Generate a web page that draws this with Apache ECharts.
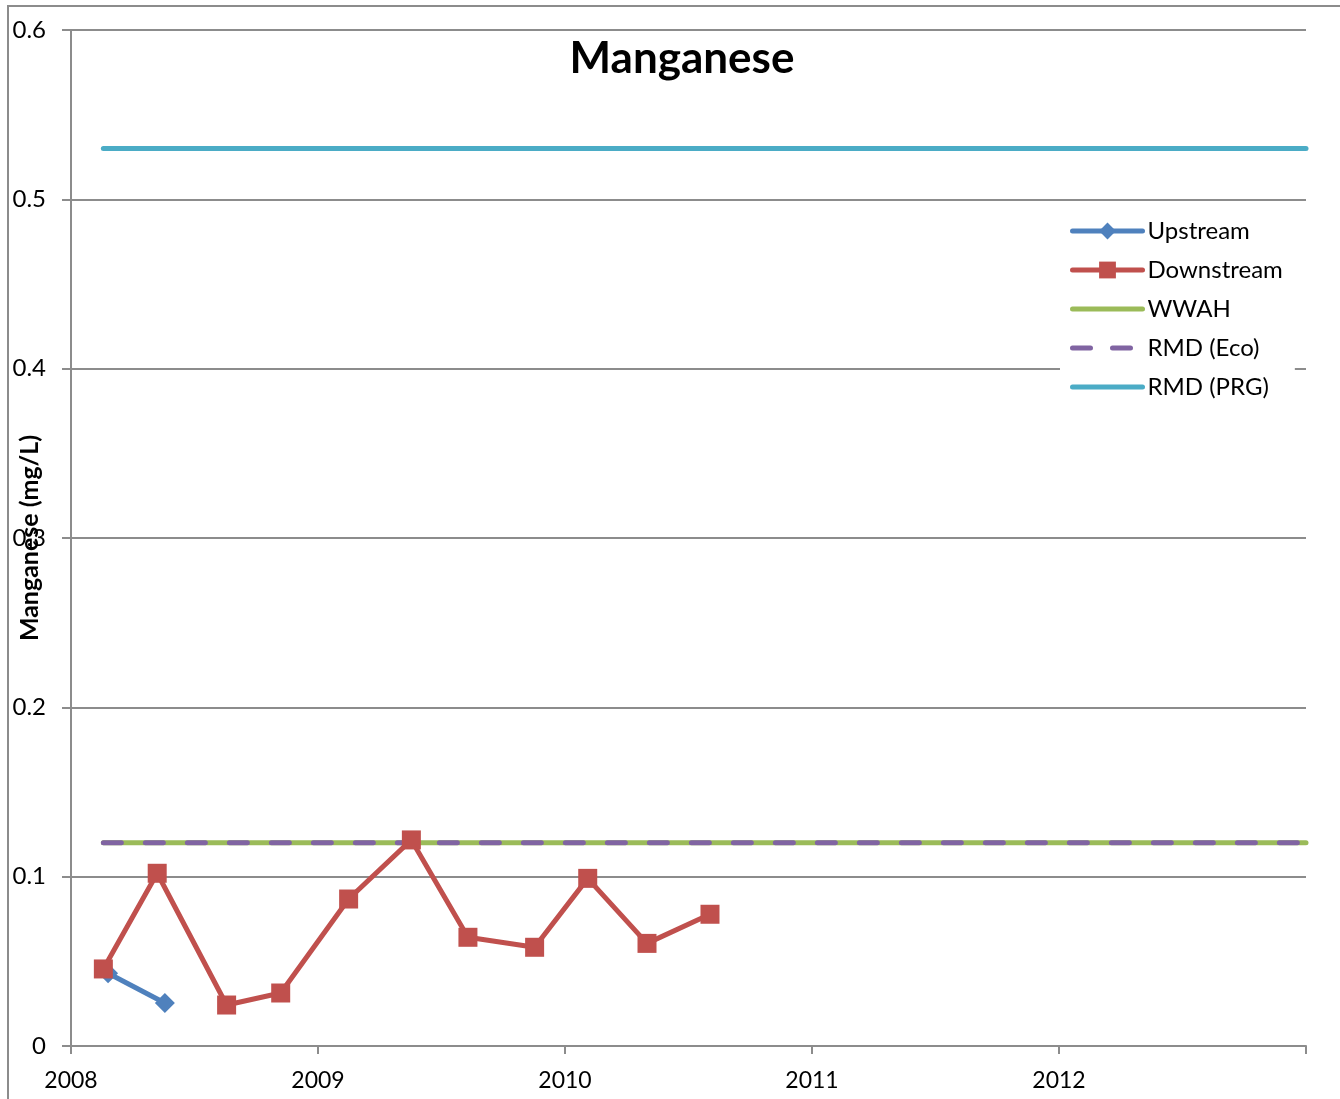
<!DOCTYPE html>
<html>
<head>
<meta charset="utf-8">
<title>Manganese</title>
<script src="https://cdn.jsdelivr.net/npm/echarts@6/dist/echarts.min.js"></script>
<style>
  html, body { margin: 0; padding: 0; background: #ffffff; }
  #chart { width: 1340px; height: 1099px; }
</style>
</head>
<body>
<div id="chart"></div>
<script>
// Sampling dates (decimal years) and manganese concentrations (mg/L)
const upstreamDates = [2008.150, 2008.380];
const upstreamValues = [0.043, 0.0254];

const downstreamDates = [2008.131, 2008.349, 2008.630, 2008.849, 2009.124, 2009.378,
                         2009.607, 2009.877, 2010.092, 2010.332, 2010.587];
const downstreamValues = [0.0455, 0.102, 0.0242, 0.0313, 0.0868, 0.1217,
                          0.0642, 0.0583, 0.099, 0.0606, 0.0778];

// Guideline levels, drawn from the first sample date to the end of the axis
const guideStart = 2008.131;
const guideEnd = 2013;
const wwahLevel = 0.12;
const rmdEcoLevel = 0.12;
const rmdPrgLevel = 0.53;

const yearTicks = [2008, 2009, 2010, 2011, 2012];

const pairs = (xs, ys) => xs.map((x, i) => [x, ys[i]]);
const flat = (v) => [[guideStart, v], [guideEnd, v]];

const FONT = 'Lato, "Open Sans", "Liberation Sans", sans-serif';
const GRID_COLOR = '#8c8c8c';
const LINE_W = 5;

const chart = echarts.init(document.getElementById('chart'), null, { renderer: 'canvas' });

chart.setOption({
  animation: false,
  backgroundColor: '#ffffff',
  textStyle: { fontFamily: FONT },
  graphic: [{
    type: 'rect',
    shape: { x: 8, y: 6, width: 1360, height: 1120 },
    style: { fill: 'none', stroke: GRID_COLOR, lineWidth: 2 },
    silent: true,
    z: -10
  }],
  title: {
    text: 'Manganese',
    left: 677,
    textAlign: 'center',
    top: 32,
    textStyle: { fontFamily: FONT, fontSize: 44, fontWeight: 'bold', color: '#000000' }
  },
  legend: {
    orient: 'vertical',
    left: 1060,
    top: 212,
    padding: [6, 12, 6, 10],
    backgroundColor: '#ffffff',
    itemWidth: 70,
    itemHeight: 21,
    itemGap: 13,
    textStyle: { fontFamily: FONT, fontSize: 24, color: '#000000', lineHeight: 26 },
    data: [
      { name: 'Upstream', lineStyle: { width: LINE_W, cap: 'round' } },
      { name: 'Downstream', lineStyle: { width: LINE_W, cap: 'round' } },
      { name: 'WWAH', lineStyle: { width: LINE_W, cap: 'round' }, itemStyle: { opacity: 0 } },
      { name: 'RMD (Eco)', lineStyle: { width: LINE_W, cap: 'round', type: [18, 22] }, itemStyle: { opacity: 0 } },
      { name: 'RMD (PRG)', lineStyle: { width: LINE_W, cap: 'round' }, itemStyle: { opacity: 0 } }
    ]
  },
  grid: { left: 71, right: 34, top: 30, bottom: 53, outerBoundsMode: 'none', containLabel: false },
  xAxis: {
    type: 'value',
    min: 2008,
    max: 2013,
    interval: 1,
    axisLine: { show: true, lineStyle: { color: GRID_COLOR, width: 2 } },
    axisTick: { show: true, length: 8, lineStyle: { color: GRID_COLOR, width: 2 } },
    splitLine: { show: false },
    axisLabel: {
      margin: 23,
      fontFamily: FONT,
      fontSize: 23,
      color: '#000000',
      formatter: (v) => (yearTicks.indexOf(v) >= 0 ? String(v) : '')
    }
  },
  yAxis: {
    type: 'value',
    min: 0,
    max: 0.6,
    interval: 0.1,
    name: 'Manganese (mg/L)',
    nameLocation: 'middle',
    nameRotate: 90,
    nameGap: 29,
    nameMoveOverlap: false,
    nameTextStyle: { fontFamily: FONT, fontSize: 25, fontWeight: 'bold', color: '#000000' },
    axisLine: { show: true, lineStyle: { color: GRID_COLOR, width: 2 } },
    axisTick: { show: true, length: 9, lineStyle: { color: GRID_COLOR, width: 2 } },
    splitLine: { show: true, lineStyle: { color: GRID_COLOR, width: 2 } },
    axisLabel: {
      margin: 25,
      fontFamily: FONT,
      fontSize: 24,
      color: '#000000',
      formatter: (v) => (v === 0 ? '0' : v.toFixed(1))
    }
  },
  series: [
    {
      name: 'Upstream',
      type: 'line',
      data: pairs(upstreamDates, upstreamValues),
      symbol: 'diamond',
      symbolSize: 20,
      itemStyle: { color: '#4F81BD' },
      lineStyle: { color: '#4F81BD', width: LINE_W }
    },
    {
      name: 'Downstream',
      type: 'line',
      data: pairs(downstreamDates, downstreamValues),
      symbol: 'rect',
      symbolSize: 19,
      itemStyle: { color: '#C0504D' },
      lineStyle: { color: '#C0504D', width: LINE_W }
    },
    {
      name: 'WWAH',
      type: 'line',
      data: flat(wwahLevel),
      symbol: 'none',
      itemStyle: { color: '#9BBB59' },
      lineStyle: { color: '#9BBB59', width: LINE_W, cap: 'round' }
    },
    {
      name: 'RMD (Eco)',
      type: 'line',
      data: flat(rmdEcoLevel),
      symbol: 'none',
      itemStyle: { color: '#8064A2' },
      lineStyle: { color: '#8064A2', width: LINE_W, type: [18, 24], cap: 'round' }
    },
    {
      name: 'RMD (PRG)',
      type: 'line',
      data: flat(rmdPrgLevel),
      symbol: 'none',
      itemStyle: { color: '#4BACC6' },
      lineStyle: { color: '#4BACC6', width: LINE_W, cap: 'round' }
    }
  ]
});
</script>
</body>
</html>
